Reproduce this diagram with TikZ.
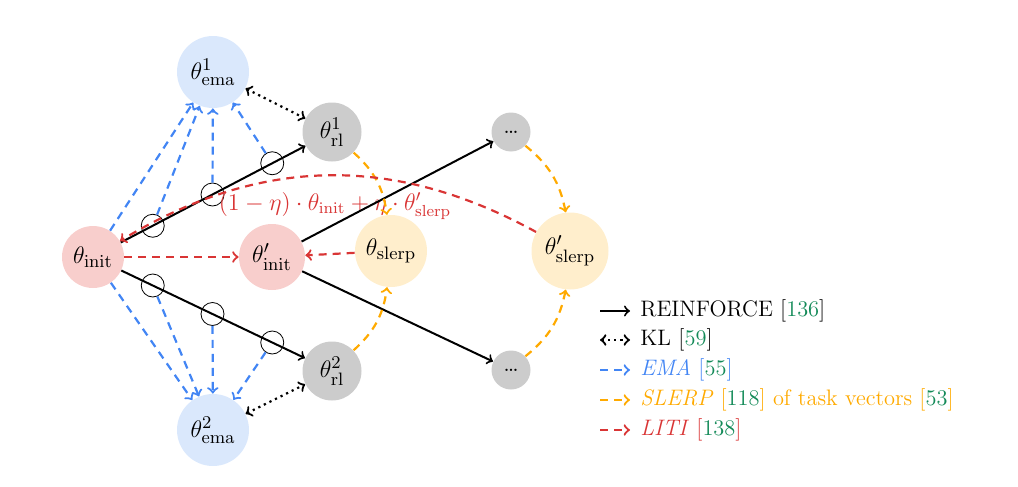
\documentclass[tikz,border=0pt]{standalone}
\usepackage{amsmath}
\usepackage{amssymb}
\usepackage{tikz}
\usetikzlibrary{arrows,calc,positioning}

\definecolor{emafill}{HTML}{DAE8FC}
\definecolor{initfill}{HTML}{F8CECC}
\definecolor{rlfill}{HTML}{CCCCCC}
\definecolor{slerpfill}{HTML}{FFEECC}
\definecolor{emablue}{HTML}{4285F4}
\definecolor{slerporange}{HTML}{FFAA00}
\definecolor{litired}{HTML}{D93535}
\definecolor{citegreen}{HTML}{138A58}

\begin{document}
\begin{tikzpicture}
    [
      x=0.5pt,y=-0.5pt,
      initnode/.style={minimum size=31pt,circle,inner sep=0pt,fill=initfill,font=\fontsize{13}{15}\selectfont},
      emanode/.style={minimum size=36pt,circle,inner sep=0pt,fill=emafill,font=\fontsize{13}{15}\selectfont},
      rlnode/.style={minimum size=29.5pt,circle,inner sep=0pt,fill=rlfill,font=\fontsize{13}{15}\selectfont},
      slerpnode/.style={minimum size=36pt,circle,inner sep=0pt,fill=slerpfill,font=\fontsize{13}{15}\selectfont},
      dotsnode/.style={minimum size=19.5pt,circle,inner sep=0pt,fill=rlfill,font=\large},
      junction/.style={minimum size=11.5pt,circle,inner sep=0pt,draw=black,thin},
      legendtext/.style={anchor=west,inner sep=0pt,font=\fontsize{11.2}{13.5}\selectfont},
      reinforce/.style={->,>=to,line width=1pt,black},
      kl/.style={<->,>=to,line width=1.1pt,dotted,black},
      emaflow/.style={->,>=to,line width=1.1pt,dash pattern=on 4pt off 3pt,emablue},
      slerpflow/.style={->,>=to,line width=1.1pt,dash pattern=on 4pt off 3pt,slerporange},
      litiflow/.style={->,>=to,line width=1.1pt,dash pattern=on 4pt off 3pt,litired},
    ]

    \useasboundingbox (0,0) rectangle (1018,487);

    \node (theta-init) [initnode] at (93,257) {$\theta_{\mathrm{init}}$};

    \node (theta-init-p) [initnode, minimum size=33pt] at (272,257) {$\theta'_{\mathrm{init}}$};

    \node (theta-ema-1) [emanode] at (213,72) {$\theta^1_{\mathrm{ema}}$};

    \node (theta-ema-2) [emanode] at (213,430) {$\theta^2_{\mathrm{ema}}$};

    \node (theta-rl-1) [rlnode] at (332,132) {$\theta^1_{\mathrm{rl}}$};

    \node (theta-rl-2) [rlnode] at (332,371) {$\theta^2_{\mathrm{rl}}$};

    \node (theta-slerp) [slerpnode] at (391,251) {$\theta_{\mathrm{slerp}}$};

    \node (theta-slerp-p) [slerpnode, minimum size=38.5pt] at (570,251) {$\theta'_{\mathrm{slerp}}$};

    \node (dots-1) [dotsnode] at (511,132) {\dots};

    \node (dots-2) [dotsnode] at (511,370) {\dots};

    \node (mix-1-a) [junction] at ($(theta-init)!0.25!(theta-rl-1)$) {};
    \node (mix-1-b) [junction] at ($(theta-init)!0.5!(theta-rl-1)$) {};
    \node (mix-1-c) [junction] at ($(theta-init)!0.75!(theta-rl-1)$) {};
    \node (mix-2-a) [junction] at ($(theta-init)!0.25!(theta-rl-2)$) {};
    \node (mix-2-b) [junction] at ($(theta-init)!0.5!(theta-rl-2)$) {};
    \node (mix-2-c) [junction] at ($(theta-init)!0.75!(theta-rl-2)$) {};

    \node (liti-label) [text=litired, font=\large] at (335,206) {$(1-\eta)\cdot\theta_{\mathrm{init}}+\eta\cdot\theta'_{\mathrm{slerp}}$};

    \path
    (theta-init) edge [reinforce] (theta-rl-1)
    (theta-init) edge [reinforce] (theta-rl-2)
    (theta-init-p) edge [reinforce] (dots-1)
    (theta-init-p) edge [reinforce] (dots-2)

    (theta-ema-1) edge [kl] (theta-rl-1)
    (theta-ema-2) edge [kl] (theta-rl-2)

    (theta-init) edge [emaflow] (theta-ema-1)
    (mix-1-a) edge [emaflow] (theta-ema-1)
    (mix-1-b) edge [emaflow] (theta-ema-1)
    (mix-1-c) edge [emaflow] (theta-ema-1)
    (theta-init) edge [emaflow] (theta-ema-2)
    (mix-2-a) edge [emaflow] (theta-ema-2)
    (mix-2-b) edge [emaflow] (theta-ema-2)
    (mix-2-c) edge [emaflow] (theta-ema-2)

    (theta-rl-1) edge [slerpflow, bend left=20] (theta-slerp)
    (theta-rl-2) edge [slerpflow, bend right=20] (theta-slerp)
    (dots-1) edge [slerpflow, bend left=20] (theta-slerp-p)
    (dots-2) edge [slerpflow, bend right=20] (theta-slerp-p)

    (theta-init) edge [litiflow] (theta-init-p)
    (theta-slerp) edge [litiflow] (theta-init-p)
    (theta-slerp-p) edge [litiflow, bend right=30] (theta-init)
    ;

    \coordinate (leg-1-a) at (600,311); \coordinate (leg-1-b) at (630,311);
    \coordinate (leg-2-a) at (600,340); \coordinate (leg-2-b) at (630,340);
    \coordinate (leg-3-a) at (600,370); \coordinate (leg-3-b) at (630,370);
    \coordinate (leg-4-a) at (600,400); \coordinate (leg-4-b) at (630,400);
    \coordinate (leg-5-a) at (600,430); \coordinate (leg-5-b) at (630,430);

    \path
    (leg-1-a) edge [reinforce] (leg-1-b)
    (leg-2-a) edge [kl] (leg-2-b)
    (leg-3-a) edge [emaflow] (leg-3-b)
    (leg-4-a) edge [slerpflow] (leg-4-b)
    (leg-5-a) edge [litiflow] (leg-5-b)
    ;

    \node (leg-1) [legendtext] at (640,311) {REINFORCE [\textcolor{citegreen}{136}]};
    \node (leg-2) [legendtext] at (640,340) {KL [\textcolor{citegreen}{59}]};
    \node (leg-3) [legendtext, text=emablue] at (640,370) {\textit{EMA} [\textcolor{citegreen}{55}]};
    \node (leg-4) [legendtext, text=slerporange] at (640,400) {\textit{SLERP} [\textcolor{citegreen}{118}] of task vectors [\textcolor{citegreen}{53}]};
    \node (leg-5) [legendtext, text=litired] at (640,430) {\textit{LITI} [\textcolor{citegreen}{138}]};

  \end{tikzpicture}
\end{document}
